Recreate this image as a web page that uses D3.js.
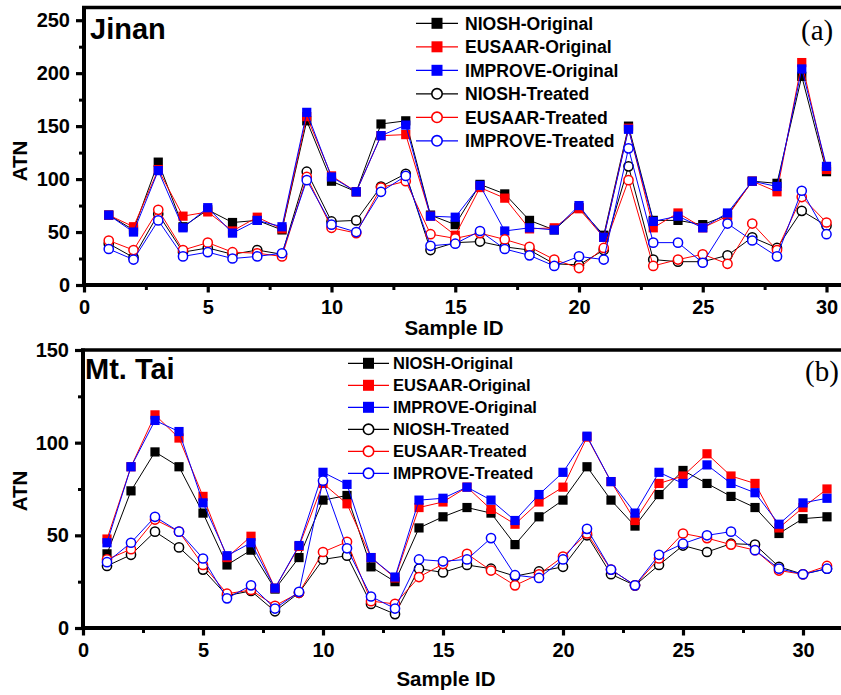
<!DOCTYPE html>
<html>
<head>
<meta charset="utf-8">
<script src="https://cdn.jsdelivr.net/npm/d3@7.9.0/dist/d3.min.js"></script>
<style>
  body { margin: 0; background: #fff; }
  svg { display: block; font-family: "Liberation Sans", Arial, sans-serif; }
  .tick-label { font-size: 20px; font-weight: bold; }
  .axis-title { font-size: 20.5px; font-weight: bold; }
  .site { font-size: 29px; font-weight: bold; }
  .panel-tag { font-family: "Liberation Serif", "Times New Roman", serif; font-size: 29px; }
</style>
</head>
<body>
<svg id="chart" width="841" height="695"></svg>
<script>
const seriesNames = ['NIOSH-Original', 'EUSAAR-Original', 'IMPROVE-Original',
  'NIOSH-Treated', 'EUSAAR-Treated', 'IMPROVE-Treated'];
const seriesColors = ['#000000', '#ff0000', '#0000ff', '#000000', '#ff0000', '#0000ff'];
const seriesFilled = [true, true, true, false, false, false];

// Jinan, samples 1..30
const jinanSamples = d3.range(1, 31);
const jinanNioshOrig = [66, 52, 116, 55, 71, 59, 61, 52, 155, 98, 88, 152, 155, 66, 57, 95, 86, 61, 52, 73, 47, 150, 61, 61, 57, 66, 98, 96, 197, 107];
const jinanEusaarOrig = [66, 55, 109, 65, 69, 51, 64, 53, 159, 103, 88, 141, 142, 65, 47, 92, 82, 53, 54, 72, 45, 148, 54, 68, 54, 65, 98, 88, 210, 109];
const jinanImproveOrig = [66, 50, 108, 54, 73, 49, 61, 55, 163, 102, 88, 141, 151, 65, 64, 94, 51, 54, 52, 75, 45, 147, 60, 65, 54, 68, 98, 93, 204, 112];
const jinanNioshTreat = [39, 26, 67, 31, 35, 29, 33, 29, 107, 60, 61, 93, 105, 33, 40, 41, 36, 33, 20, 19, 33, 112, 24, 22, 22, 28, 45, 35, 70, 56];
const jinanEusaarTreat = [42, 33, 71, 33, 40, 31, 30, 27, 102, 54, 49, 92, 98, 48, 44, 49, 43, 36, 24, 16, 35, 99, 18, 24, 29, 20, 58, 33, 83, 59];
const jinanImproveTreat = [34, 24, 61, 27, 31, 25, 27, 30, 99, 57, 50, 88, 103, 37, 39, 51, 34, 28, 18, 27, 24, 129, 40, 40, 21, 58, 42, 27, 89, 48];

// Mt. Tai, samples 1..31
const taiSamples = d3.range(1, 32);
const taiNioshOrig = [40, 74, 95, 87, 62, 34, 42, 21, 38, 69, 71.5, 33, 25, 54, 60, 65, 62, 45, 60, 69, 87, 69, 55, 72, 85, 78, 71, 65, 51, 59, 60];
const taiEusaarOrig = [48, 87, 115, 102.5, 71, 38, 49.5, 21.5, 44, 78, 67, 38, 27, 65, 68, 76, 64, 56, 68, 76, 103, 79, 58, 78, 82, 94, 82, 78, 54, 65, 75];
const taiImproveOrig = [46, 87, 112, 106, 67.5, 39, 46, 21.5, 44.5, 84, 77.5, 38, 27.5, 69, 70, 76, 69, 58, 72, 84, 103.5, 79, 62, 84, 78, 88, 78, 73, 56, 67.5, 70];
const taiNioshTreat = [33.5, 39.5, 52, 43.5, 31.5, 17.5, 20, 9, 19, 37, 39, 13, 7.5, 32, 30, 34, 32, 28, 30.5, 33, 50, 29, 23, 34, 44.5, 41, 45.5, 45, 33, 29, 32];
const taiEusaarTreat = [37, 42.5, 58.5, 52, 34, 18.5, 20.5, 12, 19, 41, 46.5, 14.5, 13, 27.5, 34.5, 40, 31, 23, 29, 38.5, 51, 31.5, 23, 37.5, 51, 48.5, 45, 42, 31, 29, 33.5];
const taiImproveTreat = [35.5, 46, 60, 52, 37.5, 16, 23, 10.5, 19.5, 79.5, 43, 17, 10.5, 37, 36, 37, 48.5, 28.5, 27, 37, 53.5, 31.5, 23, 39.5, 45.5, 50, 52, 42, 32, 29, 32];

const xTicks = [0, 5, 10, 15, 20, 25, 30];
const jinanYTicks = [0, 50, 100, 150, 200, 250];
const taiYTicks = [0, 50, 100, 150];

const svg = d3.select('#chart');

function drawPanel(opt) {
  const g = svg.append('g');
  const x = d3.scaleLinear().domain(opt.xDomain).range(opt.xRange);
  const y = d3.scaleLinear().domain(opt.yDomain).range(opt.yRange);
  const left = opt.xRange[0], bottom = opt.yRange[0], top = opt.yRange[1];

  // minor ticks
  const xMinor = d3.range(2.5, opt.xDomain[1], 5);
  const yMinor = d3.range(25, opt.yDomain[1], 50);
  g.append('g').attr('transform', `translate(0,${bottom})`)
    .call(d3.axisBottom(x).tickValues(xMinor).tickSize(5).tickFormat(''))
    .call(a => a.select('.domain').remove())
    .selectAll('line').attr('stroke-width', 3);
  g.append('g').attr('transform', `translate(${left},0)`)
    .call(d3.axisLeft(y).tickValues(yMinor).tickSize(5).tickFormat(''))
    .call(a => a.select('.domain').remove())
    .selectAll('line').attr('stroke-width', 3);

  // major ticks
  const xa = g.append('g').attr('transform', `translate(0,${bottom})`)
    .call(d3.axisBottom(x).tickValues(xTicks).tickSize(7.5).tickPadding(7.3).tickSizeOuter(0));
  xa.select('.domain').remove();
  xa.selectAll('line').attr('stroke-width', 3.2);
  xa.selectAll('text').attr('class', 'tick-label').attr('fill', '#000');

  const ya = g.append('g').attr('transform', `translate(${left},0)`)
    .call(d3.axisLeft(y).tickValues(opt.yTicks).tickSize(8).tickPadding(6).tickSizeOuter(0));
  ya.select('.domain').remove();
  ya.selectAll('line').attr('stroke-width', 3.2);
  ya.selectAll('text').attr('class', 'tick-label').attr('fill', '#000');

  // frame
  g.append('line').attr('x1', left - 2).attr('x2', 850).attr('y1', bottom).attr('y2', bottom)
    .attr('stroke', '#000').attr('stroke-width', 4);
  g.append('line').attr('x1', left).attr('x2', left).attr('y1', top - 1.5).attr('y2', bottom + 2)
    .attr('stroke', '#000').attr('stroke-width', 4);
  g.append('line').attr('x1', left - 2).attr('x2', 850).attr('y1', top).attr('y2', top)
    .attr('stroke', '#000').attr('stroke-width', 3.5);

  // series
  const line = d3.line().x((d, i) => x(opt.samples[i])).y(d => y(d));
  opt.series.forEach((vals, s) => {
    const col = seriesColors[s];
    g.append('path').datum(vals).attr('d', line)
      .attr('fill', 'none').attr('stroke', col).attr('stroke-width', 1);
    const pts = g.append('g').selectAll('.pt').data(vals).join('g')
      .attr('transform', (d, i) => `translate(${x(opt.samples[i])},${y(d)})`);
    if (seriesFilled[s]) {
      pts.append('rect').attr('x', -4.6).attr('y', -4.6).attr('width', 9.2).attr('height', 9.2)
        .attr('fill', col);
    } else {
      pts.append('circle').attr('r', 4.6).attr('fill', '#fff')
        .attr('stroke', col).attr('stroke-width', 1.5);
    }
  });

  // legend
  const lg = g.append('g');
  seriesNames.forEach((name, s) => {
    const ry = opt.legend.y0 + s * opt.legend.dy;
    const col = seriesColors[s];
    lg.append('line').attr('x1', opt.legend.x0).attr('x2', opt.legend.x1)
      .attr('y1', ry).attr('y2', ry).attr('stroke', col).attr('stroke-width', 1.2);
    const cx = (opt.legend.x0 + opt.legend.x1) / 2;
    if (seriesFilled[s]) {
      lg.append('rect').attr('x', cx - 5.5).attr('y', ry - 5.5).attr('width', 11).attr('height', 11)
        .attr('fill', col);
    } else {
      lg.append('circle').attr('cx', cx).attr('cy', ry).attr('r', 5.2).attr('fill', '#fff')
        .attr('stroke', col).attr('stroke-width', 1.6);
    }
    lg.append('text').attr('x', opt.legend.tx).attr('y', ry).attr('dy', '0.36em')
      .style('font-size', opt.legend.fs + 'px').style('font-weight', 'bold')
      .text(name);
  });

  // titles
  g.append('text').attr('class', 'site').attr('x', opt.site.x).attr('y', opt.site.y).text(opt.site.text);
  g.append('text').attr('class', 'panel-tag').attr('x', opt.tag.x).attr('y', opt.tag.y).text(opt.tag.text);
  g.append('text').attr('class', 'axis-title').attr('text-anchor', 'middle')
    .attr('x', opt.xTitle.x).attr('y', opt.xTitle.y).text('Sample ID');
  g.append('text').attr('class', 'axis-title').attr('text-anchor', 'middle')
    .attr('transform', `translate(27,${opt.yTitleY}) rotate(-90)`).text('ATN');
}

drawPanel({
  samples: jinanSamples,
  series: [jinanNioshOrig, jinanEusaarOrig, jinanImproveOrig, jinanNioshTreat, jinanEusaarTreat, jinanImproveTreat],
  xDomain: [0, 31], xRange: [84, 84 + 31 * 24.75],
  yDomain: [0, 262], yRange: [285, 7.5],
  yTicks: jinanYTicks,
  legend: { x0: 416, x1: 458, tx: 465, y0: 23.3, dy: 23.5, fs: 17.6 },
  site: { text: 'Jinan', x: 90, y: 39 },
  tag: { text: '(a)', x: 801, y: 40 },
  xTitle: { x: 454, y: 335 }, yTitleY: 161
});

drawPanel({
  samples: taiSamples,
  series: [taiNioshOrig, taiEusaarOrig, taiImproveOrig, taiNioshTreat, taiEusaarTreat, taiImproveTreat],
  xDomain: [0, 32], xRange: [83, 83 + 32 * 24],
  yDomain: [0, 150], yRange: [628, 350],
  yTicks: taiYTicks,
  legend: { x0: 348, x1: 389, tx: 393, y0: 363.3, dy: 22, fs: 16.5 },
  site: { text: 'Mt. Tai', x: 85, y: 379 },
  tag: { text: '(b)', x: 805, y: 381 },
  xTitle: { x: 446, y: 686 }, yTitleY: 491
});
</script>
</body>
</html>
